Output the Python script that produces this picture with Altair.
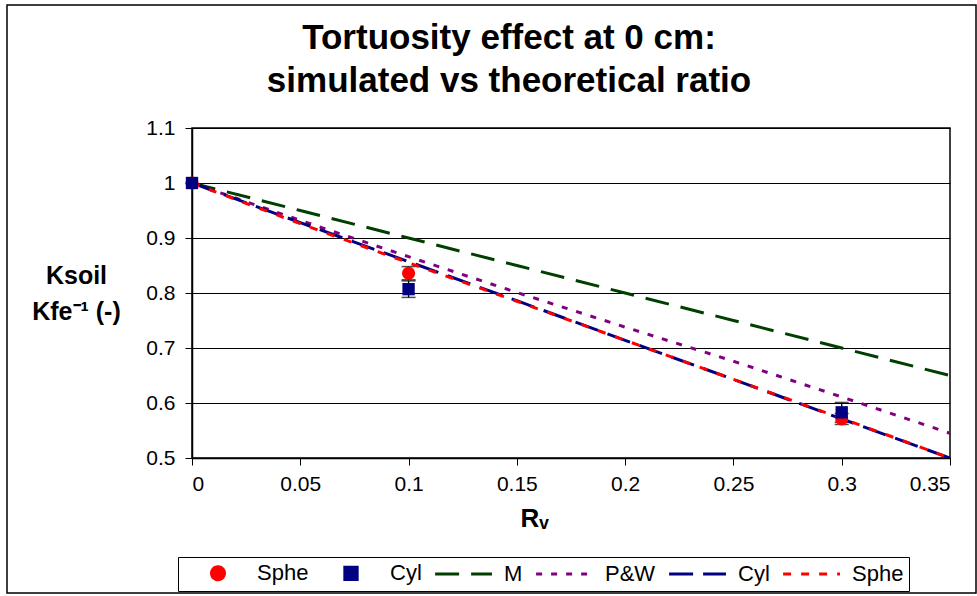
import altair as alt
import pandas as pd

# ---- data ----
rv_line = [0.0, 0.05, 0.1, 0.15, 0.2, 0.25, 0.3, 0.35]
m_line = [1.0, 0.95, 0.90, 0.85, 0.80, 0.75, 0.70, 0.65]
pw_line = [1.0, 0.932, 0.866, 0.801, 0.738, 0.676, 0.611, 0.545]
cyl_line = [1.0, 0.928, 0.857, 0.786, 0.714, 0.643, 0.571, 0.50]
sphe_line = [1.0, 0.926, 0.855, 0.785, 0.714, 0.643, 0.572, 0.50]

rv_pts = [0.0, 0.1, 0.3]
sphe_pts = [1.0, 0.836, 0.571]
sphe_err = [0.0, 0.012, 0.010]
cyl_pts = [1.0, 0.807, 0.583]
cyl_err = [0.0, 0.015, 0.018]

title_lines = ["Tortuosity effect at 0 cm:", "simulated vs theoretical ratio"]
keys = ["Sphe", "Cyl", "M", "P&W", "Cyl ", "Sphe "]
colors = ["#FF0000", "#000080", "#003F00", "#800080", "#000080", "#FF0000"]
circle_path = "M1,0A1,1 0 1,1 -1,0A1,1 0 1,1 1,0Z"
square_path = "M-0.95,-0.95H0.95V0.95H-0.95Z"
line_path = "M-4.6,0H4.15"
shapes = [circle_path, square_path, line_path, line_path, line_path, line_path]
dashes = [[1, 0], [1, 0], [24, 12], [6, 9], [24, 10], [8, 10]]

# ---- tables ----
lines = pd.DataFrame({
    "rv": rv_line * 4,
    "val": m_line + pw_line + cyl_line + sphe_line,
    "key": ["M"] * 8 + ["P&W"] * 8 + ["Cyl "] * 8 + ["Sphe "] * 8,
})
pts = pd.DataFrame({
    "rv": rv_pts * 2,
    "val": sphe_pts + cyl_pts,
    "err": sphe_err + cyl_err,
    "key": ["Sphe"] * 3 + ["Cyl"] * 3,
})
pts["lo"] = pts["val"] - pts["err"]
pts["hi"] = pts["val"] + pts["err"]
errs = pts[pts["err"] > 0]

FONT = "Liberation Sans"

x_enc = alt.X("rv:Q", scale=alt.Scale(domain=[0, 0.35], nice=False),
              axis=alt.Axis(values=rv_line, format=".2~f", grid=False,
                            title="Rᵥ", titleFontSize=26, titleFontWeight="bold",
                            titleX=342, titleY=68, titleBaseline="alphabetic",
                            labelPadding=8))
y_ticks = [0.5, 0.6, 0.7, 0.8, 0.9, 1.0, 1.1]
y_enc = alt.Y("val:Q", scale=alt.Scale(domain=[0.5, 1.1], nice=False, zero=False),
              axis=alt.Axis(values=y_ticks, format=".1~f", grid=True,
                            title=["Ksoil", "Kfe⁻¹ (-)"], titleAngle=0,
                            titleAlign="center", titleBaseline="alphabetic",
                            titleX=-116, titleY=155, titleFontSize=25,
                            titleFontWeight="bold", titleLineHeight=36,
                            labelPadding=10))

color_enc = alt.Color("key:N", scale=alt.Scale(domain=keys, range=colors),
                      legend=alt.Legend(title=None))
shape_enc = alt.Shape("key:N", scale=alt.Scale(domain=keys, range=shapes),
                      legend=alt.Legend(title=None))
dash_enc = alt.StrokeDash("key:N", scale=alt.Scale(domain=keys, range=dashes),
                          legend=alt.Legend(title=None))

base_lines = alt.Chart(lines)
line_layers = [
    base_lines.transform_filter(alt.datum.key == k)
    .mark_line(strokeWidth=3, clip=True)
    .encode(x=x_enc, y=y_enc, color=color_enc, strokeDash=dash_enc)
    for k in ["M", "P&W", "Cyl ", "Sphe "]
]

err_rule = alt.Chart(errs).mark_rule(color="black", strokeWidth=1.3).encode(
    x="rv:Q", y="lo:Q", y2="hi:Q")
err_lo = alt.Chart(errs).mark_tick(color="black", orient="horizontal", size=14,
                                   thickness=1.5).encode(x="rv:Q", y="lo:Q")
err_hi = alt.Chart(errs).mark_tick(color="black", orient="horizontal", size=14,
                                   thickness=1.5).encode(x="rv:Q", y="hi:Q")

point_layers = [
    alt.Chart(pts).transform_filter(alt.datum.key == k)
    .mark_point(filled=True, size=169, opacity=1)
    .encode(x="rv:Q", y="val:Q", color=color_enc, shape=shape_enc)
    for k in ["Sphe", "Cyl"]
]

one = pd.DataFrame({"a": [0]})
frame = alt.Chart(one).mark_rect(
    fill=None, stroke="black", strokeWidth=1.5).encode(
    x=alt.value(-185), x2=alt.value(784), y=alt.value(-123), y2=alt.value(465))

title = alt.Chart(one).mark_text(
    font=FONT, fontSize=35, fontWeight="bold", color="black", align="center",
    baseline="alphabetic", lineHeight=43).encode(
    x=alt.value(317), y=alt.value(-79), text=alt.value(title_lines))

chart = alt.layer(
    err_rule, err_lo, err_hi, *line_layers, *point_layers, frame, title
).properties(
    width=758, height=330,
    autosize=alt.AutoSizeParams(type="none"),
    padding={"left": 192, "top": 128, "right": 27, "bottom": 138},
).configure(
    font=FONT,
    background="white",
).configure_view(
    stroke="black", strokeWidth=1.5,
).configure_axis(
    labelFont=FONT, labelFontSize=21, labelColor="black",
    titleFont=FONT, titleColor="black",
    domainColor="black", domainWidth=1.5,
    tickColor="black", tickSize=7, tickWidth=1,
    gridColor="black", gridWidth=1.2, gridOpacity=1,
).configure_legend(
    orient="none", legendX=-14, legendY=429, direction="horizontal", columns=6,
    strokeColor="black", padding=5, labelFont=FONT, labelFontSize=22,
    labelColor="black", symbolStrokeWidth=3, symbolSize=169,
    columnPadding=7, labelOffset=28, symbolOffset=24, symbolOpacity=1,
)

chart.save("out.html", embed_options={"renderer": "svg", "actions": False})
